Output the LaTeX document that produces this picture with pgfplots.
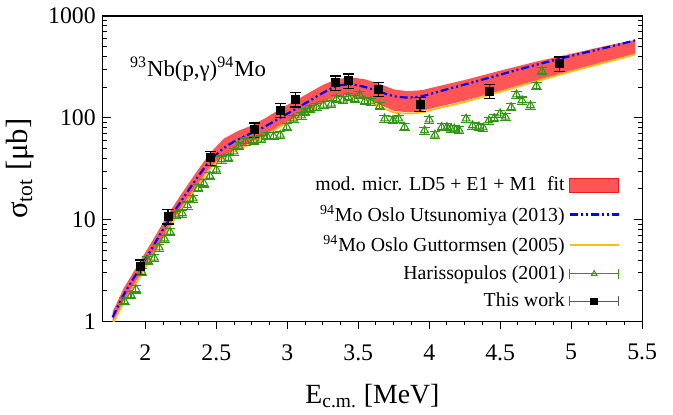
\documentclass[border=0pt]{standalone}
\usepackage{fontspec}
\setmainfont{Liberation Serif}
\usepackage{pgfplots}
\pgfplotsset{compat=1.18}
\usepgfplotslibrary{fillbetween}
\usepackage{pgfplotstable}

\definecolor{bandred}{RGB}{255,85,85}
\definecolor{bandedge}{RGB}{235,30,30}
\definecolor{oslo}{RGB}{255,190,20}
\definecolor{hgreen}{RGB}{50,150,20}

% theory: band limits, Utsunomiya (blue), Guttormsen (yellow)
\pgfplotstableread{
x    lo    up    blue  yel
1.77 0.97  1.25  1.10  0.95
1.85 1.60  2.15  1.85  1.55
1.95 2.70  3.65  3.15  2.60
2.05 4.60  6.20  5.30  4.40
2.15 7.90  10.7  9.20  7.60
2.25 13.0  17.5  15.0  12.5
2.35 20.5  28.0  24.0  19.8
2.45 32.0  44.0  37.0  31.0
2.55 42.0  62.0  50.0  41.0
2.65 50.0  74.0  61.0  48.5
2.75 58.0  84.0  71.0  56.0
2.85 69.0  100   83.0  67.0
2.95 84.0  122   100   82.0
3.05 100   146   120   97.0
3.15 120   175   145   116
3.25 143   210   175   139
3.35 163   240   205   158
3.45 168   250   212   163
3.55 155   238   200   150
3.65 135   215   180   130
3.75 117   190   163   113
3.85 113   182   158   110
3.95 117   187   163   113
4.05 127   202   178   123
4.25 147   235   212   143
4.50 184   290   265   180
4.75 232   355   330   227
5.00 290   425   405   285
5.25 360   510   490   352
5.45 425   580   575   418
}\theory

% Harissopulos (2001)
\pgfplotstableread{
x     y     err
1.853 1.58  0.08
1.899 1.81  0.08
1.934 2.07  0.08
1.976 3.07  0.08
2.016 3.99  0.08
2.063 4.21  0.08
2.098 5.31  0.08
2.135 6.50  0.08
2.175 7.57  0.08
2.215 11.2  0.08
2.260 11.5  0.08
2.296 13.8  0.08
2.336 16.1  0.08
2.373 20.4  0.08
2.413 22.7  0.08
2.455 26.8  0.08
2.500 30.9  0.08
2.537 39.0  0.08
2.584 40.3  0.08
2.624 46.6  0.08
2.659 52.8  0.08
2.705 58.6  0.08
2.764 60.0  0.08
2.817 62.2  0.08
2.857 66.0  0.08
2.904 66.0  0.08
2.950 68.0  0.08
2.997 81.0  0.08
3.044 97.8  0.08
3.100 105   0.08
3.125 114   0.08
3.160 122   0.08
3.207 128   0.08
3.254 134   0.08
3.310 137   0.08
3.346 153   0.08
3.394 150   0.08
3.429 160   0.08
3.476 153   0.08
3.510 168   0.08
3.546 146   0.08
3.588 144   0.08
3.651 130   0.08
3.686 98    0.08
3.745 95    0.08
3.785 98    0.08
3.826 81    0.08
3.967 75    0.08
4.000 96    0.08
4.040 68    0.08
4.088 81    0.08
4.125 81    0.08
4.153 78    0.08
4.177 78    0.08
4.210 76    0.08
4.260 98    0.08
4.305 84    0.08
4.350 82    0.08
4.380 80    0.08
4.420 94    0.08
4.457 99    0.08
4.500 110   0.08
4.537 102   0.08
4.577 127   0.08
4.615 169   0.08
4.654 148   0.08
4.713 132   0.08
4.755 205   0.08
4.795 287   0.08
}\haris

% this work
\pgfplotstableread{
x     y     err
1.965 3.46  0.16
2.160 10.8  0.16
2.460 40.5  0.16
2.768 76.5  0.16
2.950 119   0.16
3.060 152   0.16
3.340 222   0.16
3.430 232   0.16
3.640 191   0.16
3.935 136   0.16
4.425 183   0.16
4.920 340   0.16
}\thiswork

\begin{document}
\begin{tikzpicture}
\begin{axis}[
  scale only axis,
  width=271bp, height=153.5bp,
  ymode=log,
  xmin=1.7, xmax=5.5, ymin=1, ymax=1000,
  xtick={2,2.5,...,5.5}, minor x tick num=3,
  ytick={1,10,100,1000},
  log ticks with fixed point,
  /pgf/number format/1000 sep={},
  /pgf/number format/assume math mode=true,
  xtick pos=bottom, ytick pos=both,
  xtick align=outside, ytick align=inside,
  major tick length=4bp, minor tick length=2bp,
  tick style={black, line width=0.5bp},
  axis line style={line width=0.6bp},
  ticklabel style={font=\fontsize{12}{14}\selectfont},
  xticklabel style={yshift=-4bp},
  ylabel style={font=\fontsize{15.5}{18}\selectfont},
  xlabel style={font=\fontsize{14}{17}\selectfont, yshift=-5bp},
  xlabel={E\textsubscript{c.m.} [MeV]},
  ylabel={σ\textsubscript{tot} [μb]},
  legend plot pos=right,
  legend cell align=right,
  legend style={draw=none, fill=none, at={(0.97,0.5)}, anchor=north east,
    font=\fontsize{10}{12}\selectfont, row sep=1.5bp},
]
% legend entries
\addlegendimage{legend image code/.code={\draw[fill=bandred, draw=bandedge, line width=0.5bp] (0bp,-3.75bp) rectangle (24.5bp,3.75bp);}}
\addlegendentry{mod. micr. LD5 + E1 + M1\ \ fit}
\addlegendimage{blue, line width=1.1bp, dash pattern=on 4bp off 1.5bp on 1bp off 1.5bp on 1bp off 1.5bp,
  legend image code/.code={\draw (0bp,0bp) -- (24.5bp,0bp);}}
\addlegendentry{\textsuperscript{94}Mo Oslo Utsunomiya (2013)}
\addlegendimage{oslo, line width=0.9bp, legend image code/.code={\draw (0bp,0bp) -- (24.5bp,0bp);}}
\addlegendentry{\textsuperscript{94}Mo Oslo Guttormsen (2005)}
\addlegendimage{hgreen, line width=0.5bp, mark=triangle, mark size=1.6bp,
  legend image code/.code={\draw (0bp,0bp) -- (24.5bp,0bp) (0bp,-2.5bp) -- (0bp,2.5bp) (24.5bp,-2.5bp) -- (24.5bp,2.5bp);
  \draw plot[only marks] coordinates {(12.25bp,0bp)};}}
\addlegendentry{Harissopulos (2001)}
\addlegendimage{black!65, line width=0.5bp, mark=square*, mark size=1.6bp, mark options={black},
  legend image code/.code={\draw (0bp,0bp) -- (24.5bp,0bp) (0bp,-2.5bp) -- (0bp,2.5bp) (24.5bp,-2.5bp) -- (24.5bp,2.5bp);
  \draw plot[only marks] coordinates {(12.25bp,0bp)};}}
\addlegendentry{This work}

% band
\addplot[name path=up, draw=none, forget plot] table[x=x, y=up] {\theory};
\addplot[name path=lo, draw=none, forget plot] table[x=x, y=lo] {\theory};
\addplot[bandred, forget plot] fill between[of=up and lo];

\addplot[oslo, line width=0.9bp, smooth, forget plot] table[x=x, y=yel] {\theory};
\addplot[blue, line width=1.1bp, smooth, dash pattern=on 4bp off 1.5bp on 1bp off 1.5bp on 1bp off 1.5bp, forget plot]
  table[x=x, y=blue] {\theory};

\addplot[hgreen, only marks, mark=triangle, mark size=2.3bp, mark options={line width=0.55bp}, forget plot,
  error bars/.cd, y dir=both, y explicit relative,
  error bar style={hgreen, line width=0.55bp},
  error mark options={rotate=90, hgreen, line width=0.55bp, mark size=2.6bp}]
  table[x=x, y=y, y error=err] {\haris};

\addplot[black, only marks, mark=square*, mark size=2bp, forget plot,
  error bars/.cd, y dir=both, y explicit relative,
  error bar style={black, line width=0.6bp},
  error mark options={rotate=90, black, line width=0.6bp, mark size=2.8bp}]
  table[x=x, y=y, y error=err] {\thiswork};

\node[anchor=west, inner sep=0pt, font=\fontsize{11.5}{14}\selectfont] at (axis cs:1.89,300)
  {\textsuperscript{93}Nb(p,γ)\textsuperscript{94}Mo};
\end{axis}
\path ([shift={(-50bp,-41.5bp)}]current axis.south west) rectangle ([shift={(15.5bp,8bp)}]current axis.north east);
\end{tikzpicture}
\end{document}
